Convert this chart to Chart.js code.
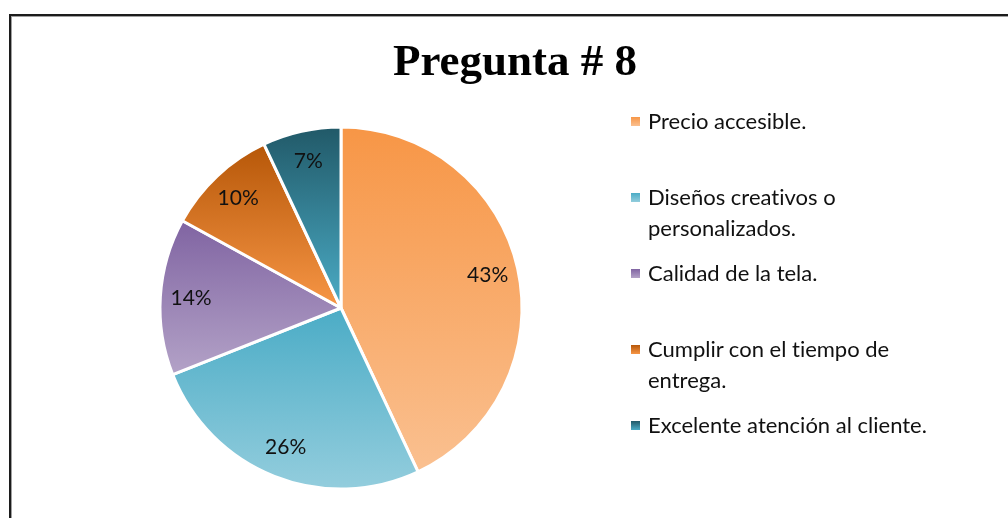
<!DOCTYPE html>
<html>
<head>
<meta charset="utf-8">
<script src="https://cdn.jsdelivr.net/npm/chart.js@4.4.1/dist/chart.umd.min.js"></script>
<style>
  html, body { margin: 0; padding: 0; background: #fff; width: 1008px; height: 518px; overflow: hidden; }
  #frame { position: absolute; left: 9px; top: 14px; width: 1010px; height: 520px; border: 2px solid #1c1c1c; box-shadow: inset 1px 1px 0 #a0a0a0; }
  #wrap { position: absolute; left: 0; top: 0; width: 1010px; height: 502px; }
  #legend { position: absolute; left: 0; top: 0; font-family: Lato, "Open Sans", sans-serif; font-size: 22px; color: #111; font-variant-ligatures: none; }
  .item { position: absolute; left: 631px; width: 340px; }
  .mark { position: absolute; left: 0; width: 9px; height: 9px; }
  .txt { position: absolute; left: 17px; width: 300px; line-height: 31px; }
</style>
</head>
<body>
<div id="frame"><div id="wrap"><canvas id="pie"></canvas></div></div>
<div id="legend"></div>
<script>
const title = "Pregunta # 8";
const categories = [
    "Precio accesible.",
    "Diseños creativos o personalizados.",
    "Calidad de la tela.",
    "Cumplir con el tiempo de entrega.",
    "Excelente atención al cliente."
];
const values = [43, 26, 14, 10, 7];

// top / bottom colour of each slice's gradient
const topColors = ["#F79646", "#4BACC6", "#8064A2", "#B65708", "#215968"];
const bottomColors = ["#FAC090", "#93CDDD", "#B3A2C7", "#F79646", "#4BACC6"];

const RADIUS = 181;

function sliceGradient(context) {
    const chart = context.chart;
    const area = chart.chartArea;
    const i = context.dataIndex;
    if (!area) return topColors[i];
    const cx = (area.left + area.right) / 2;
    const cy = (area.top + area.bottom) / 2;
    const total = values.reduce((a, b) => a + b, 0);
    let before = 0;
    for (let k = 0; k < i; k++) before += values[k];
    const a0 = -Math.PI / 2 + before / total * Math.PI * 2;
    const a1 = a0 + values[i] / total * Math.PI * 2;
    let ys = [cy, cy + RADIUS * Math.sin(a0), cy + RADIUS * Math.sin(a1)];
    // include top / bottom of circle if the slice passes them
    [-Math.PI / 2, Math.PI / 2, 3 * Math.PI / 2].forEach(function (a) {
        if (a >= a0 && a <= a1) ys.push(cy + RADIUS * Math.sin(a));
    });
    const y0 = Math.min.apply(null, ys);
    const y1 = Math.max.apply(null, ys);
    const g = chart.ctx.createLinearGradient(0, y0, 0, y1);
    g.addColorStop(0, topColors[i]);
    g.addColorStop(1, bottomColors[i]);
    return g;
}

// percentage labels inside the slices + title over the whole frame
const sliceLabels = {
    id: "sliceLabels",
    afterDatasetsDraw(chart) {
        const ctx = chart.ctx;
        const meta = chart.getDatasetMeta(0);
        const total = values.reduce((a, b) => a + b, 0);
        ctx.save();
        ctx.font = "21px Lato, 'Open Sans', sans-serif";
        ctx.fillStyle = "#111";
        ctx.textAlign = "center";
        ctx.textBaseline = "middle";
        meta.data.forEach(function (arc, i) {
            const mid = (arc.startAngle + arc.endAngle) / 2;
            const r = arc.outerRadius * 0.83;
            const pct = Math.round(values[i] / total * 100) + "%";
            ctx.fillText(pct, arc.x + Math.cos(mid) * r, arc.y + Math.sin(mid) * r);
        });

        ctx.font = "bold 45px 'Liberation Serif', serif";
        ctx.fillStyle = "#000";
        ctx.textBaseline = "alphabetic";
        ctx.fillText(title, 504, 59);
        ctx.restore();
    }
};

const ctx = document.getElementById("pie");

let chart = new Chart(ctx, {
    type: "pie",
    data: {
        labels: categories,
        datasets: [{
            data: values,
            backgroundColor: sliceGradient,
            borderColor: "#ffffff",
            borderWidth: 3,
            radius: RADIUS
        }]
    },
    options: {
        responsive: true,
        maintainAspectRatio: false,
        animation: false,
        layout: {
            padding: { left: 146, right: 496, top: 108, bottom: 26 }
        },
        plugins: {
            legend: { display: false },
            tooltip: { enabled: false },
            title: { display: false }
        }
    },
    plugins: [sliceLabels]
});

// Legend
const legend = document.getElementById("legend");
categories.forEach(function (name, i) {
    const item = document.createElement("div");
    item.className = "item";
    item.style.top = (121 + 76 * i - 16) + "px";
    const mark = document.createElement("div");
    mark.className = "mark";
    mark.style.top = "12px";
    mark.style.background = "linear-gradient(" + topColors[i] + ", " + bottomColors[i] + ")";
    const txt = document.createElement("div");
    txt.className = "txt";
    txt.textContent = name;
    item.appendChild(mark);
    item.appendChild(txt);
    legend.appendChild(item);
});
</script>
</body>
</html>
